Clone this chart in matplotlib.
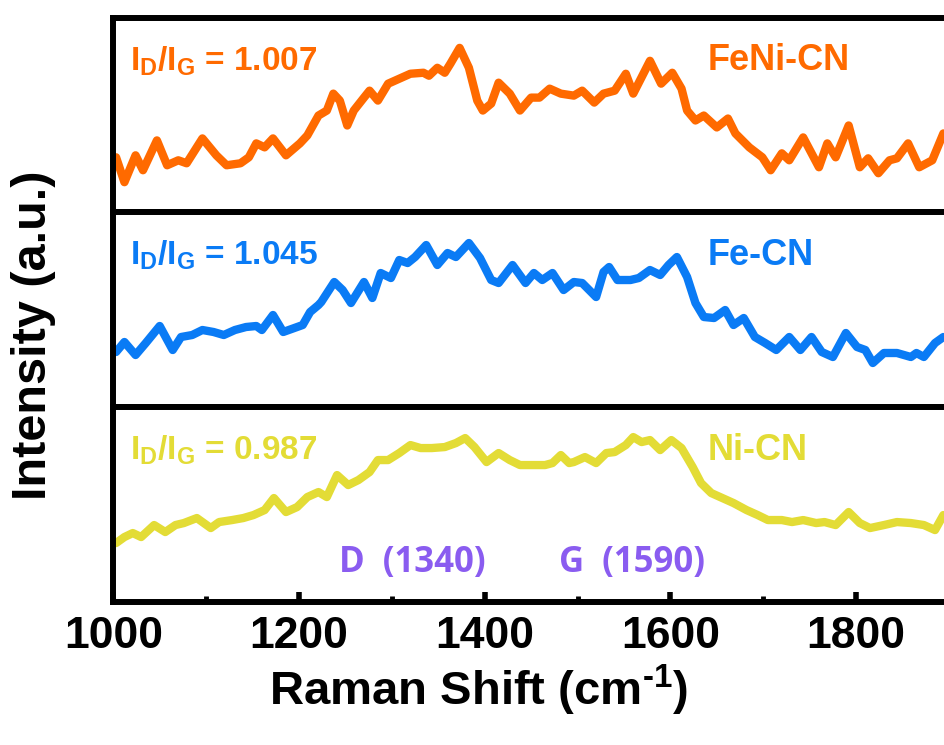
#!/usr/bin/env python3

import matplotlib
matplotlib.use('Agg')
import matplotlib.pyplot as plt
from matplotlib.ticker import MultipleLocator

# Raman spectra (arbitrary intensity units)
wavenumber_feni = [1003, 1012, 1024, 1032, 1047, 1058, 1070, 1079, 1096, 1111, 1122, 1137, 1146, 1154,
                   1163, 1172, 1186, 1201, 1209, 1221, 1230, 1237, 1244, 1252, 1259, 1270, 1276, 1285,
                   1296, 1308, 1320, 1334, 1340, 1349, 1357, 1363, 1373, 1383, 1392, 1398, 1407, 1415,
                   1427, 1438, 1450, 1459, 1470, 1482, 1496, 1505, 1518, 1528, 1540, 1552, 1560, 1566,
                   1578, 1590, 1602, 1612, 1618, 1627, 1636, 1650, 1662, 1670, 1685, 1699, 1708, 1720,
                   1728, 1743, 1760, 1769, 1778, 1792, 1804, 1813, 1824, 1836, 1844, 1856, 1868, 1882,
                   1894]
intensity_feni = [55, 30, 57, 42, 72, 47, 52, 49, 74, 57, 47, 49, 55, 69,
                  65, 74, 57, 69, 77, 97, 102, 119, 112, 87, 102, 115, 122, 112,
                  129, 134, 139, 140, 137, 145, 140, 149, 165, 145, 112, 102, 109, 130,
                  119, 102, 115, 115, 124, 119, 117, 122, 110, 119, 122, 139, 119, 130,
                  152, 129, 140, 124, 102, 92, 97, 85, 94, 79, 65, 55, 42, 59,
                  52, 75, 45, 69, 55, 87, 45, 54, 39, 52, 54, 69, 45, 52,
                  79]

wavenumber_fe = [1003, 1012, 1024, 1035, 1050, 1064, 1073, 1085, 1096, 1108, 1119, 1131, 1143, 1154,
                 1160, 1172, 1183, 1195, 1204, 1212, 1221, 1224, 1238, 1247, 1256, 1270, 1279, 1288,
                 1299, 1308, 1317, 1325, 1337, 1349, 1360, 1369, 1383, 1395, 1407, 1415, 1430, 1444,
                 1453, 1462, 1473, 1485, 1496, 1505, 1520, 1528, 1534, 1543, 1557, 1566, 1578, 1589,
                 1598, 1607, 1618, 1627, 1636, 1647, 1659, 1668, 1679, 1691, 1702, 1714, 1728, 1740,
                 1752, 1763, 1775, 1789, 1801, 1810, 1818, 1830, 1844, 1859, 1865, 1873, 1885, 1894]
intensity_fe = [55, 65, 52, 64, 81, 57, 70, 72, 77, 75, 72, 77, 80, 81,
                77, 92, 75, 79, 82, 95, 102, 105, 125, 117, 104, 125, 109, 134,
                129, 147, 144, 150, 162, 142, 154, 150, 164, 149, 127, 124, 142, 124,
                134, 127, 134, 117, 125, 124, 110, 135, 140, 127, 127, 129, 137, 132,
                142, 150, 130, 104, 90, 89, 97, 82, 89, 70, 64, 57, 70, 57,
                70, 55, 50, 74, 60, 57, 44, 54, 54, 50, 54, 50, 64, 70]

wavenumber_ni = [1003, 1012, 1021, 1030, 1044, 1056, 1067, 1076, 1090, 1105, 1114, 1128, 1140, 1151,
                 1163, 1173, 1186, 1198, 1209, 1221, 1230, 1241, 1253, 1264, 1276, 1285, 1296, 1308,
                 1320, 1331, 1343, 1357, 1369, 1379, 1389, 1402, 1415, 1427, 1438, 1450, 1465, 1473,
                 1482, 1491, 1496, 1508, 1520, 1531, 1540, 1552, 1560, 1569, 1578, 1589, 1601, 1612,
                 1624, 1633, 1644, 1656, 1668, 1682, 1694, 1705, 1720, 1731, 1743, 1757, 1766, 1778,
                 1792, 1804, 1815, 1830, 1844, 1859, 1873, 1885, 1894]
intensity_ni = [59, 65, 69, 65, 77, 70, 77, 79, 84, 74, 80, 82, 84, 87,
                92, 104, 90, 95, 105, 110, 105, 127, 117, 122, 130, 142, 142, 149,
                157, 154, 154, 155, 159, 164, 155, 140, 149, 142, 137, 137, 137, 139,
                147, 139, 140, 145, 139, 149, 150, 157, 165, 160, 162, 152, 162, 154,
                135, 119, 109, 104, 99, 92, 87, 82, 82, 80, 82, 79, 80, 77,
                90, 79, 74, 77, 80, 79, 77, 72, 87]

ratio_labels = ['1.007', '1.045', '0.987']
sample_names = ['FeNi-CN', 'Fe-CN', 'Ni-CN']
colors = ['#ff6a00', '#0a7bf5', '#e3dc36']
tick_values = [1000, 1200, 1400, 1600, 1800]
peak_labels = ['D  (1340)', 'G  (1590)']
peak_text_x = [1243, 1480]


def main():
    plt.rcParams['font.family'] = ['Liberation Sans', 'DejaVu Sans']
    plt.rcParams['font.weight'] = 'bold'
    plt.rcParams['mathtext.default'] = 'regular'

    fig = plt.figure(figsize=(9.44, 7.45), dpi=100)
    # panels share x; the right part of the frame runs past the picture edge
    bottoms = [0.7154, 0.4537, 0.1919]
    heights = [0.2604, 0.2617, 0.2617]
    series = [(wavenumber_feni, intensity_feni), (wavenumber_fe, intensity_fe), (wavenumber_ni, intensity_ni)]

    axes = []
    for i, (x, y) in enumerate(series):
        ax = fig.add_axes([0.12, bottoms[i], 0.9836, heights[i]])
        ax.plot(x, y, color=colors[i], lw=6, solid_joinstyle='round', solid_capstyle='round')
        ax.set_xlim(1000, 2000)
        ax.set_ylim(0, 195)
        ax.set_yticks([])
        for sp in ax.spines.values():
            sp.set_linewidth(4.3)
        ax.text(0.018, 0.73, r'I$_\mathregular{D}$/I$_\mathregular{G}$ = ' + ratio_labels[i],
                transform=ax.transAxes, color=colors[i], fontsize=24, fontweight='bold', va='baseline')
        ax.text(0.6405, 0.73, sample_names[i], transform=ax.transAxes, color=colors[i],
                fontsize=26, fontweight='bold', va='baseline')
        if i < 2:
            ax.set_xticks([])
        axes.append(ax)

    ax = axes[-1]
    ax.set_xticks(tick_values)
    ax.xaxis.set_minor_locator(MultipleLocator(100))
    ax.tick_params(axis='x', which='major', direction='in', length=7, width=4, labelsize=32, pad=10)
    ax.tick_params(axis='x', which='minor', direction='in', length=4, width=3.5)
    for lbl, px in zip(peak_labels, peak_text_x):
        ax.text(px, 30, lbl, color='#8a5cf0', fontsize=25, fontweight='bold',
                family=['Open Sans', 'DejaVu Sans'], va='baseline')

    fig.text(0.507, 0.073, 'Raman Shift (cm$^{\\mathregular{\u20101}}$)', ha='center', va='center', fontsize=34)
    fig.text(0.035, 0.55, 'Intensity (a.u.)', rotation=90, ha='center', va='center', fontsize=35)

    fig.savefig('out.png', dpi=100)


if __name__ == '__main__':
    main()
